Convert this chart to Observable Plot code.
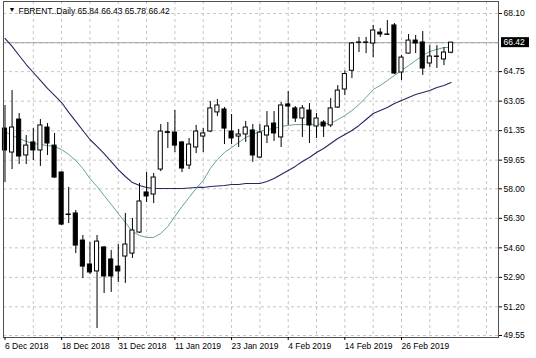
<!DOCTYPE html>
<html><head><meta charset="utf-8">
<script src="https://cdn.jsdelivr.net/npm/d3@7"></script>
<script src="https://cdn.jsdelivr.net/npm/@observablehq/plot@0.6"></script>
<style>body{margin:0;background:#fff}</style>
</head><body><div id="chart"></div>
<script>
// Daily FBRENT candles, 6 Dec 2018 .. early Mar 2019 (bar index 0..63)
const opens  = [61.47,60.09,61.99,59.92,60.67,60.21,61.53,60.49,58.94,56.52,
                56.58,55.02,53.64,53.24,54.62,53.93,53.52,54.10,54.27,55.48,
                57.79,57.67,59.11,61.26,61.24,60.67,59.34,60.38,61.01,61.30,
                62.40,62.57,61.30,61.01,61.13,61.36,59.80,61.07,61.76,60.96,
                62.86,62.63,62.05,62.51,61.59,61.82,61.65,62.68,63.72,64.80,
                66.43,66.43,66.37,67.00,66.89,67.41,64.70,65.79,66.54,66.43,
                65.22,65.62,65.45,65.84];
const highs  = [62.80,63.66,62.34,61.07,61.47,61.99,61.76,61.19,58.96,58.08,
                56.75,55.31,54.91,55.31,54.68,54.45,54.79,56.58,56.29,58.31,
                58.94,58.88,61.70,61.82,62.51,60.73,60.90,61.65,61.47,63.03,
                63.14,62.68,62.28,61.42,61.88,61.70,61.70,62.45,62.45,62.97,
                63.61,62.74,62.80,62.91,62.34,61.93,63.20,63.95,64.80,66.43,
                66.72,66.72,67.41,67.23,67.70,67.52,65.68,66.89,66.83,67.06,
                66.25,66.25,66.14,66.43];
const lows   = [58.36,59.11,59.40,59.40,59.63,59.29,59.92,58.59,55.89,56.00,
                54.27,52.83,53.06,49.95,51.97,52.03,52.60,52.55,53.99,55.43,
                57.21,57.15,58.99,60.32,60.09,58.94,59.11,60.03,60.09,61.24,
                62.17,60.55,60.55,60.38,60.67,59.52,59.75,60.61,60.73,60.38,
                61.65,61.82,60.96,60.61,60.90,60.96,61.53,62.63,63.37,64.35,
                65.85,65.79,65.56,66.72,66.83,64.58,64.24,65.77,65.79,64.53,
                64.99,64.93,65.10,65.78];
const closes = [60.21,61.53,59.86,60.49,60.21,61.65,60.61,58.65,55.94,56.49,
                54.73,53.52,53.18,54.96,52.95,52.95,53.24,54.79,55.60,57.27,
                57.56,58.65,61.30,61.22,60.49,59.17,60.55,61.30,61.19,62.63,
                62.80,61.47,60.90,61.13,61.53,59.92,61.24,61.59,61.19,62.80,
                62.74,62.05,62.63,61.65,62.05,61.59,62.63,63.66,64.61,66.37,
                66.41,66.41,67.12,66.89,66.87,64.64,65.56,66.54,66.37,64.93,
                65.62,65.60,65.85,66.42];
// moving averages
const slowMA = [66.66,66.20,65.68,65.16,64.70,64.24,63.78,63.38,62.97,62.40,
                61.88,61.36,60.84,60.44,60.03,59.57,59.11,58.71,58.36,58.19,
                58.08,58.02,58.02,58.02,58.02,58.02,58.05,58.08,58.08,58.13,
                58.16,58.19,58.25,58.25,58.31,58.31,58.31,58.42,58.59,58.82,
                59.05,59.29,59.57,59.80,60.09,60.32,60.61,60.90,61.13,61.36,
                61.65,61.99,62.34,62.51,62.68,62.91,63.09,63.26,63.43,63.55,
                63.66,63.84,63.95,64.12];
const fastMA = [61.30,61.07,60.90,60.73,60.61,60.55,60.49,60.44,60.26,59.98,
                59.63,59.17,58.59,58.13,57.61,57.10,56.58,56.06,55.54,55.31,
                55.20,55.20,55.43,55.83,56.41,56.98,57.50,58.02,58.48,59.17,
                59.69,60.09,60.38,60.67,60.96,61.13,61.30,61.42,61.47,61.59,
                61.65,61.70,61.70,61.70,61.70,61.76,61.76,61.99,62.22,62.51,
                62.86,63.26,63.72,63.95,64.24,64.53,64.82,65.10,65.39,65.68,
                65.91,66.03,66.14,66.14];
const xTickIdx = [0,8,16,24,32,40,48,56];
const xTickLabels = ["6 Dec 2018","18 Dec 2018","31 Dec 2018","11 Jan 2019","23 Jan 2019","4 Feb 2019","14 Feb 2019","26 Feb 2019"];
const gridIdx = [4,8,12,16,20,24,28,32,36,40,44,48,52,56,60,64,68];
const gridLevels = [49.55,51.20,52.90,54.60,56.30,58.00,59.65,61.35,63.05,64.75,66.40,68.10];
const yTicks = [49.55,51.20,52.90,54.60,56.30,58.00,59.65,61.35,63.05,64.75,68.10];
const titleText = "FBRENT..Daily 65.84 66.43 65.78 66.42";
const lastClose = closes[closes.length - 1];

const idx = opens.map((_, i) => i);
const bars = idx.map(i => ({i, o: opens[i], h: highs[i], l: lows[i], c: closes[i]}));
const xDomain = [-0.21, 69.7];
const half = 0.29;
const labelMap = new Map(xTickIdx.map((d, k) => [d, xTickLabels[k]]));

const chart = Plot.plot({
  width: 536, height: 358,
  marginLeft: 3, marginRight: 38, marginTop: 1, marginBottom: 21,
  style: {fontFamily: "'Liberation Sans', Arial, sans-serif", fontSize: "8.5px", background: "#fff", color: "#000"},
  x: {domain: xDomain, axis: null, label: null},
  y: {domain: [49.435, 68.79], axis: null, label: null},
  marks: [
    Plot.ruleX(gridIdx, {stroke: "#c6c6c6", strokeDasharray: "3,3"}),
    Plot.ruleY(gridLevels, {stroke: "#c6c6c6", strokeDasharray: "3,3"}),
    Plot.ruleY([lastClose], {stroke: "#a6a6a6"}),
    Plot.line(idx, {x: d => d, y: i => slowMA[i], stroke: "#262660", strokeWidth: 1.1}),
    Plot.line(idx, {x: d => d, y: i => fastMA[i], stroke: "#66a39a", strokeWidth: 1}),
    Plot.ruleX(bars, {x: d => d.i, y1: d => d.l, y2: d => d.h, stroke: "#000"}),
    Plot.rect(bars, {x1: d => d.i - half, x2: d => d.i + half, y1: d => d.o, y2: d => d.c,
      fill: d => d.c >= d.o ? "#fff" : "#000", stroke: "#000"}),
    Plot.frame({stroke: "#505050"}),
    Plot.axisY(yTicks, {anchor: "right", tickSize: 3, tickPadding: 2, label: null, tickFormat: d => d.toFixed(2)}),
    Plot.axisX(xTickIdx, {anchor: "bottom", tickSize: 3, tickPadding: 2, textAnchor: "start", label: null,
      tickFormat: d => labelMap.get(d)}),
    Plot.rect([lastClose], {x1: xDomain[1], x2: xDomain[1], y1: d => d, y2: d => d,
      insetLeft: 3, insetRight: -31, insetTop: -5, insetBottom: -5, fill: "#000"}),
    Plot.text([lastClose], {x: xDomain[1], y: d => d, text: d => d.toFixed(2), dx: 5,
      textAnchor: "start", fill: "#fff"}),
    Plot.text(["▼"], {frameAnchor: "top-left", dx: 5, dy: 6, fontSize: 7, textAnchor: "start", lineAnchor: "top", fill: "#000"}),
    Plot.text([titleText], {frameAnchor: "top-left", dx: 15, dy: 6, textAnchor: "start", lineAnchor: "top", fill: "#000"})
  ]
});
document.getElementById("chart").appendChild(chart);
</script>
</body></html>
